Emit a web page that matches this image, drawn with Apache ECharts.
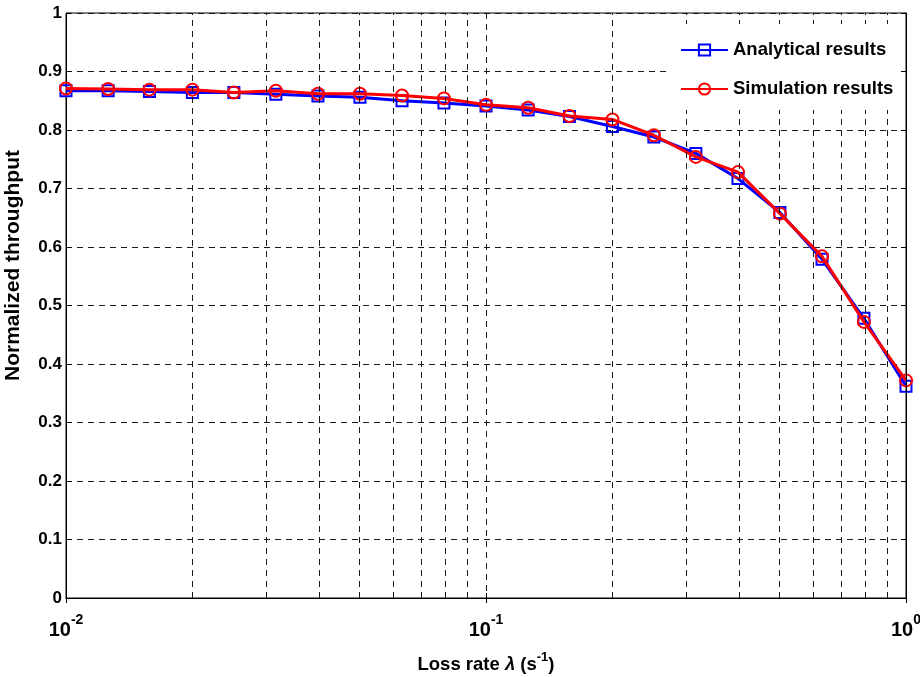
<!DOCTYPE html>
<html>
<head>
<meta charset="utf-8">
<script src="https://cdn.jsdelivr.net/npm/echarts@6/dist/echarts.min.js"></script>
<style>
html,body{margin:0;padding:0;background:#fff;}
#chart{width:920px;height:677px;}
</style>
</head>
<body>
<div id="chart"></div>
<script>
// ---- data ----
const lossRate = [0.01, 0.0126, 0.0158, 0.02, 0.0251, 0.0316, 0.0398, 0.0501, 0.0631, 0.0794, 0.1, 0.126, 0.158, 0.2, 0.251, 0.316, 0.398, 0.501, 0.631, 0.794, 1];
const analytical = [0.867, 0.867, 0.866, 0.864, 0.864, 0.861, 0.858, 0.856, 0.850, 0.846, 0.841, 0.834, 0.823, 0.806, 0.788, 0.760, 0.717, 0.659, 0.579, 0.478, 0.362];
const simulation = [0.871, 0.870, 0.869, 0.869, 0.864, 0.867, 0.862, 0.862, 0.859, 0.854, 0.843, 0.838, 0.824, 0.818, 0.791, 0.754, 0.728, 0.657, 0.584, 0.472, 0.372];
const minorTicks = [0.02, 0.03, 0.04, 0.05, 0.06, 0.07, 0.08, 0.09, 0.2, 0.3, 0.4, 0.5, 0.6, 0.7, 0.8, 0.9];
const seriesNames = ['Analytical results', 'Simulation results'];

const FONT = '"Liberation Sans", Arial, Helvetica, sans-serif';
const chart = echarts.init(document.getElementById('chart'), null, {renderer: 'canvas'});

const dashed = {color: '#1a1a1a', width: 1, type: [6, 5]};

const option = {
  animation: false,
  backgroundColor: '#fff',
  grid: {left: 66, right: 14, top: 13, bottom: 79, outerBoundsMode: 'none', containLabel: false,
         show: true, borderColor: '#000', borderWidth: 1, backgroundColor: 'transparent'},
  legend: {
    orient: 'vertical',
    left: 668, top: 24,
    padding: [14, 11, 9, 12],
    backgroundColor: '#fff',
    z: 20,
    itemWidth: 47, itemHeight: 14, itemGap: 15,
    textStyle: {fontFamily: FONT, fontWeight: 'bold', fontSize: 18.5, lineHeight: 24, color: '#000'},
    data: seriesNames
  },
  xAxis: [{
    type: 'log', logBase: 10, min: 0.01, max: 1,
    position: 'bottom',
    axisLine: {show: true, lineStyle: {color: '#000', width: 1}},
    axisTick: {show: true, inside: true, length: 5, lineStyle: {color: '#000'}},
    splitLine: {show: true, lineStyle: dashed},
    axisLabel: {
      margin: 15,
      formatter: function (v) {
        const e = Math.round(Math.log10(v));
        return '{b|10}{s|' + e + '}';
      },
      rich: {
        b: {fontFamily: FONT, fontWeight: 'bold', fontSize: 20, color: '#000', verticalAlign: 'bottom'},
        s: {fontFamily: FONT, fontWeight: 'bold', fontSize: 14, color: '#000', padding: [0, 0, 13, 0], verticalAlign: 'bottom'}
      }
    },
    name: '{b|Loss rate }{i|λ}{b| (s}{s|-1}{b|)}',
    nameLocation: 'middle', nameGap: 53,
    nameTextStyle: {
      rich: {
        b: {fontFamily: FONT, fontWeight: 'bold', fontSize: 18.5, color: '#000', verticalAlign: 'bottom'},
        i: {fontFamily: FONT, fontWeight: 'bold', fontStyle: 'italic', fontSize: 18.5, color: '#000', verticalAlign: 'bottom'},
        s: {fontFamily: FONT, fontWeight: 'bold', fontSize: 13, color: '#000', padding: [0, 0, 10, 0], verticalAlign: 'bottom'}
      }
    }
  }, {
    type: 'log', logBase: 10, min: 0.01, max: 1,
    position: 'top',
    z: 30,
    axisLine: {show: true, lineStyle: {color: '#000', width: 1}},
    axisTick: {show: true, inside: true, length: 5, lineStyle: {color: '#000'}},
    axisLabel: {show: false},
    splitLine: {show: false}
  }],
  yAxis: [{
    type: 'value', min: 0, max: 1, interval: 0.1,
    position: 'left',
    axisLine: {show: true, lineStyle: {color: '#000', width: 1}},
    axisTick: {show: true, inside: true, length: 5, lineStyle: {color: '#000'}},
    splitLine: {show: true, lineStyle: dashed},
    axisLabel: {margin: 4, fontFamily: FONT, fontWeight: 'bold', fontSize: 17, color: '#000'},
    name: 'Normalized throughput',
    nameLocation: 'middle', nameGap: 42, nameRotate: 90,
    nameTextStyle: {fontFamily: FONT, fontWeight: 'bold', fontSize: 21, color: '#000', padding: [0, 0, 0, 80]}
  }, {
    type: 'value', min: 0, max: 1, interval: 0.1,
    position: 'right',
    z: 30,
    axisLine: {show: true, lineStyle: {color: '#000', width: 1}},
    axisTick: {show: true, inside: true, length: 5, lineStyle: {color: '#000'}},
    axisLabel: {show: false},
    splitLine: {show: false}
  }],
  series: [{
    name: seriesNames[0],
    type: 'line',
    xAxisIndex: 0, yAxisIndex: 0,
    data: lossRate.map((x, i) => [x, analytical[i]]),
    symbol: 'rect', symbolSize: 11,
    showAllSymbol: true,
    lineStyle: {color: '#0000ff', width: 3},
    itemStyle: {color: 'rgba(255,255,255,0)', borderColor: '#0000ff', borderWidth: 2},
    emphasis: {disabled: true},
    z: 3,
    markLine: {
      silent: true, symbol: 'none', label: {show: false},
      lineStyle: dashed,
      emphasis: {disabled: true},
      data: minorTicks.map(v => ({xAxis: v}))
    }
  }, {
    name: seriesNames[1],
    type: 'line',
    xAxisIndex: 0, yAxisIndex: 0,
    data: lossRate.map((x, i) => [x, simulation[i]]),
    symbol: 'circle', symbolSize: 12,
    showAllSymbol: true,
    lineStyle: {color: '#ff0000', width: 3},
    itemStyle: {color: 'rgba(255,255,255,0)', borderColor: '#ff0000', borderWidth: 2},
    emphasis: {disabled: true},
    z: 4
  }]
};
chart.setOption(option);
</script>
</body>
</html>
